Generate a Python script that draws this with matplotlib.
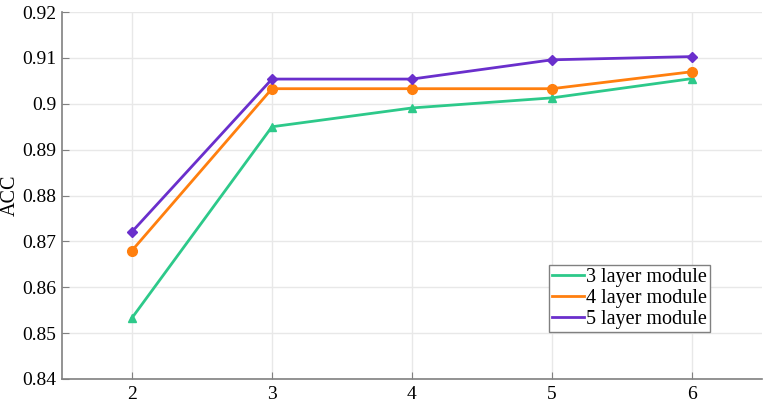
import matplotlib.pyplot as plt

layers = [2, 3, 4, 5, 6]
acc_3 = [0.8533, 0.8950, 0.8991, 0.9013, 0.9055]
acc_4 = [0.8680, 0.9033, 0.9033, 0.9033, 0.9070]
acc_5 = [0.8721, 0.9054, 0.9054, 0.9096, 0.9103]
labels = ["3 layer module", "4 layer module", "5 layer module"]

plt.rcParams['font.family'] = ['Liberation Serif', 'DejaVu Serif']

fig = plt.figure(figsize=(7.65, 4.04), dpi=100)
ax = fig.add_axes([0.081, 0.062, 0.915, 0.908])

ax.plot(layers, acc_3, color="#2dc98a", lw=2, marker="^", ms=6, label=labels[0])
ax.plot(layers, acc_4, color="#ff7f0e", lw=2, marker="o", ms=7, label=labels[1])
ax.plot(layers, acc_5, color="#6a2fcc", lw=2, marker="D", ms=5.5, label=labels[2])

ax.set_xlim(1.5, 6.5)
ax.set_ylim(0.84, 0.92)
ax.set_xticks(layers)
ax.set_yticks([0.84, 0.85, 0.86, 0.87, 0.88, 0.89, 0.9, 0.91, 0.92])
ax.set_yticklabels(["0.84", "0.85", "0.86", "0.87", "0.88", "0.89", "0.9", "0.91", "0.92"])
ax.set_ylabel("ACC", fontsize=14.5, labelpad=2)

ax.grid(True, color="#e8e8e8", lw=1)
ax.set_axisbelow(True)
for s in ["top", "right"]:
    ax.spines[s].set_visible(False)
for s in ["left", "bottom"]:
    ax.spines[s].set_color("#808080")
    ax.spines[s].set_linewidth(1.2)
ax.tick_params(direction="in", length=5, color="#808080", labelsize=14)
ax.tick_params(axis="x", pad=5)
ax.tick_params(axis="y", pad=4)

leg = ax.legend(loc="lower right", bbox_to_anchor=(0.926, 0.128), fontsize=14.5,
                handlelength=1.6, handletextpad=0.1, borderpad=0.15, labelspacing=0.1,
                fancybox=False, framealpha=1, borderaxespad=0)
leg.get_frame().set_edgecolor("#808080")
leg.get_frame().set_linewidth(1)
for h in leg.get_lines():
    h.set_marker("")

fig.savefig("out.png", dpi=100)
